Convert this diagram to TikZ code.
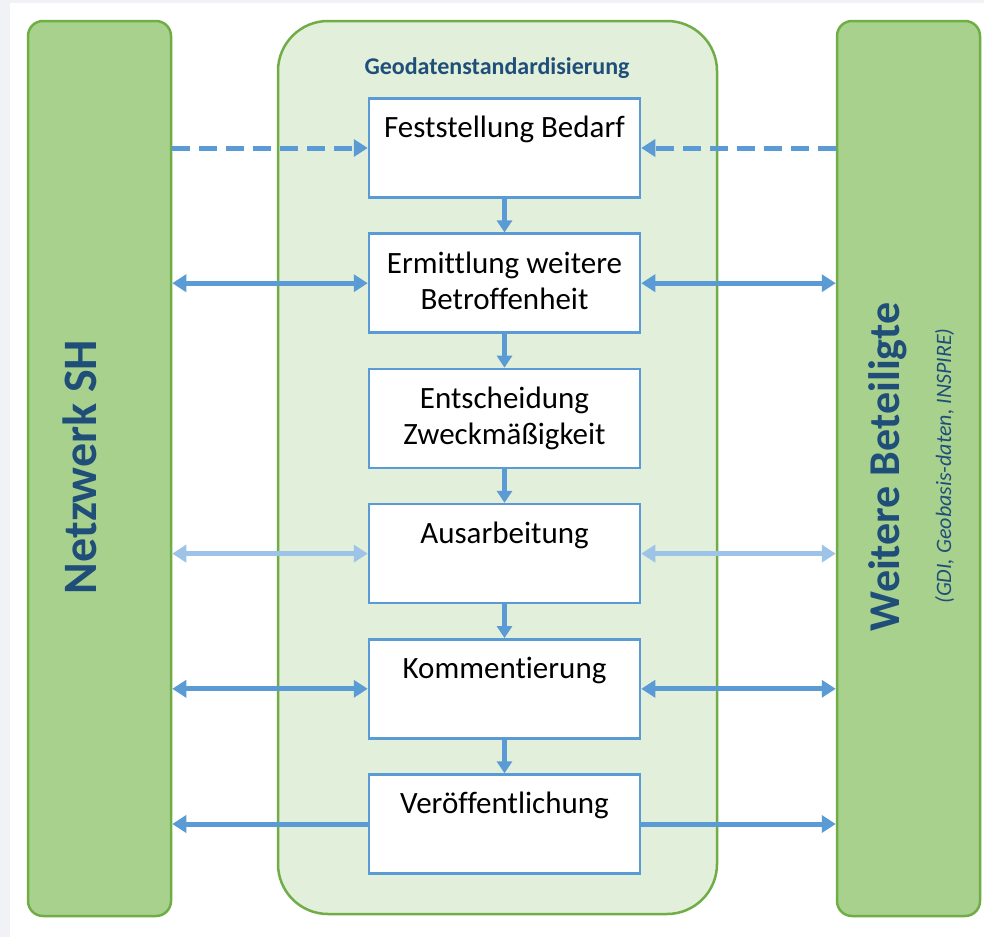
\documentclass[tikz,border=0pt]{standalone}
\usepackage{fontspec}
\setmainfont{Carlito}[Ligatures=NoCommon]
\usepackage{tikz}
\usetikzlibrary{positioning,arrows.meta}

\definecolor{barfill}{HTML}{A9D18E}
\definecolor{bargreen}{HTML}{70AD47}
\definecolor{panelfill}{HTML}{E2EFDA}
\definecolor{stepblue}{HTML}{5B9BD5}
\definecolor{lightblue}{HTML}{9DC3E6}
\definecolor{darkblue}{HTML}{1F4E79}
\definecolor{pagegray}{HTML}{F0F2F5}

\begin{document}
\begin{tikzpicture}[
  x=1pt, y=-1pt,
  node distance=33.7pt,
  bar/.style={draw=bargreen, line width=2.5pt, fill=barfill, rounded corners=15pt, minimum width=143pt, minimum height=895pt, inner sep=0pt},
  panel/.style={draw=bargreen, line width=2.5pt, fill=panelfill, rounded corners=50pt, minimum width=439pt, minimum height=893pt, inner sep=0pt},
  stepbox/.style={draw=stepblue, line width=2.5pt, fill=white, minimum width=271pt, minimum height=99pt, inner sep=0pt},
  steptext/.style={align=center, inner sep=0pt, font=\fontsize{31}{36}\selectfont},
  bartext/.style={rotate=90, anchor=base, inner sep=0pt, text=darkblue, font=\fontsize{44}{50}\selectfont\bfseries},
  tip/.tip={Triangle[length=14pt, width=17pt]},
  flow/.style={-tip, line width=5pt, stepblue},
  both/.style={tip-tip, line width=5pt, stepblue},
  faint/.style={tip-tip, line width=5pt, lightblue},
  need/.style={-tip, line width=5pt, stepblue, dash pattern=on 18pt off 9pt},
  down/.style={-{Triangle[length=12pt, width=15pt]}, line width=5pt, stepblue}
]
\useasboundingbox (0,0) rectangle (984,937);
\fill[pagegray] (0,0) rectangle (984,937);
\fill[white] (10,3) rectangle (984,937);

% frame
\node[bar] (netz) at (99.5,468.5) {};
\node[bar] (weitere) at (908.5,468.5) {};
\node[panel] (geo) at (497.5,467.5) {};

\node[bartext, font=\fontsize{48}{54}\selectfont\bfseries] (netzlabel) at (96,467) {Netzwerk SH};
\node[bartext] (weiterelabel) at (899,467) {Weitere Beteiligte};
\node[rotate=90, anchor=base, inner sep=0pt, text=darkblue, font=\fontsize{22}{26}\selectfont\itshape] (weiterenote) at (951,466) {(GDI, Geobasis-daten, INSPIRE)};
\node[anchor=base, inner sep=0pt, text=darkblue, font=\fontsize{24}{28}\selectfont\bfseries] (geolabel) at (497,74) {Geodatenstandardisierung};

% steps
\node[stepbox] (bedarf) at (504.5,148) {};
\node[stepbox, below=of bedarf] (ermittlung) {};
\node[stepbox, below=of ermittlung] (entscheidung) {};
\node[stepbox, below=of entscheidung] (ausarbeitung) {};
\node[stepbox, below=of ausarbeitung] (kommentierung) {};
\node[stepbox, below=of kommentierung] (veroeff) {};

\node[steptext, below=19pt of bedarf.north] (bedarftext) {Feststellung Bedarf};
\node[steptext, below=19pt of ermittlung.north] (ermittlungtext) {Ermittlung weitere\\Betroffenheit};
\node[steptext, below=19pt of entscheidung.north] (entscheidungtext) {Entscheidung\\Zweckmäßigkeit};
\node[steptext, below=19pt of ausarbeitung.north] (ausarbeitungtext) {Ausarbeitung};
\node[steptext, below=19pt of kommentierung.north] (kommentierungtext) {Kommentierung};
\node[steptext, below=19pt of veroeff.north] (veroefftext) {Veröffentlichung};

\draw[down] (bedarf) -- (ermittlung);
\draw[down] (ermittlung) -- (entscheidung);
\draw[down] (entscheidung) -- (ausarbeitung);
\draw[down] (ausarbeitung) -- (kommentierung);
\draw[down] (kommentierung) -- (veroeff);

% links to both sides
\draw[need] (netz.east |- bedarf.west) -- (bedarf.west);
\draw[need] (weitere.west |- bedarf.east) -- (bedarf.east);
\draw[both] (netz.east |- ermittlung.west) -- (ermittlung.west);
\draw[both] (ermittlung.east) -- (weitere.west |- ermittlung.east);
\draw[faint] (netz.east |- ausarbeitung.west) -- (ausarbeitung.west);
\draw[faint] (ausarbeitung.east) -- (weitere.west |- ausarbeitung.east);
\draw[both] (netz.east |- kommentierung.west) -- (kommentierung.west);
\draw[both] (kommentierung.east) -- (weitere.west |- kommentierung.east);
\draw[flow] (veroeff.west) -- (netz.east |- veroeff.west);
\draw[flow] (veroeff.east) -- (weitere.west |- veroeff.east);
\end{tikzpicture}
\end{document}
